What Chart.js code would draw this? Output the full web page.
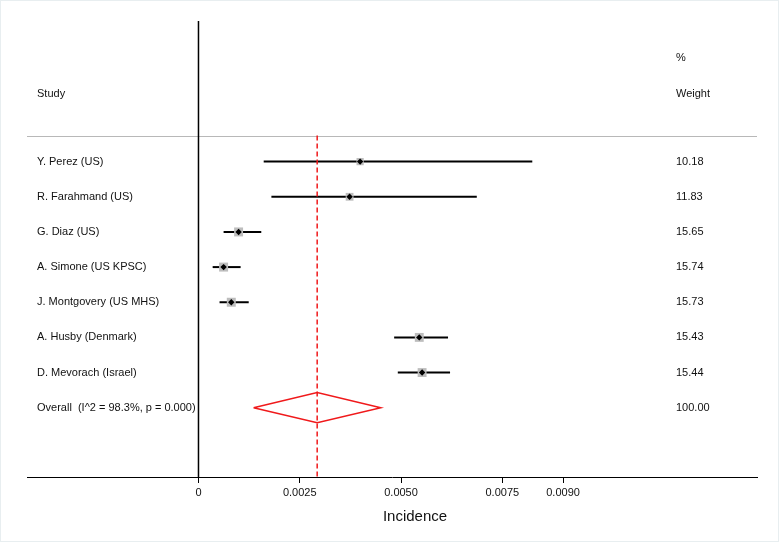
<!DOCTYPE html>
<html>
<head>
<meta charset="utf-8">
<script src="https://cdn.jsdelivr.net/npm/chart.js@4.4.1/dist/chart.umd.min.js"></script>
<style>
  html, body { margin: 0; padding: 0; background: #fff; }
  #wrap { width: 779px; height: 542px; position: relative; }
  #wrap canvas { position: absolute; left: 0; top: 0; }
  #wrap::after { content: ''; position: absolute; inset: 0; border: 1px solid #e8eef0; pointer-events: none; }
</style>
</head>
<body>
<div id="wrap"><canvas id="forest" width="779" height="542"></canvas></div>
<script>
// data
const studies = ['Y. Perez (US)', 'R. Farahmand (US)', 'G. Diaz (US)', 'A. Simone (US KPSC)',
  'J. Montgovery (US MHS)', 'A. Husby (Denmark)', 'D. Mevorach (Israel)'];
const estimates = [0.00399, 0.00373, 0.00099, 0.00062, 0.00081, 0.00545, 0.00552];
const lowerCI = [0.00161, 0.00180, 0.00062, 0.00035, 0.00052, 0.00483, 0.00492];
const upperCI = [0.00824, 0.00687, 0.00155, 0.00104, 0.00124, 0.00616, 0.00621];
const weights = ['10.18', '11.83', '15.65', '15.74', '15.73', '15.43', '15.44'];
const overallLabel = 'Overall  (I^2 = 98.3%, p = 0.000)';
const overall = { est: 0.00293, lo: 0.00136, hi: 0.00450, weight: '100.00' };
const tickValues = [0, 0.0025, 0.005, 0.0075, 0.009];
const tickLabels = ['0', '0.0025', '0.0050', '0.0075', '0.0090'];

const FONT = '"Liberation Sans", Arial, Helvetica, sans-serif';
const overallRow = studies.length;

// grey squares + black diamonds
const squares = studies.map((s, i) => ({ x: estimates[i], y: i }));
const squareSizes = weights.map(w => Math.sqrt(parseFloat(w)) * 1.6);

const diamond = [
  { x: overall.lo, y: overallRow },
  { x: overall.est, y: overallRow - 0.43 },
  { x: overall.hi, y: overallRow },
  { x: overall.est, y: overallRow + 0.43 },
  { x: overall.lo, y: overallRow }
];

// draws CI whiskers, labels and headers
const forestPlugin = {
  id: 'forest',
  beforeDatasetsDraw(chart) {
    const { ctx, scales: { x, y }, chartArea } = chart;
    ctx.save();
    // separator under header
    ctx.strokeStyle = '#b8b8b8';
    ctx.lineWidth = 1;
    const sepY = Math.round(y.getPixelForValue(-0.743)) + 0.5;
    ctx.beginPath();
    ctx.moveTo(chartArea.left, sepY);
    ctx.lineTo(chartArea.right, sepY);
    ctx.stroke();

    // confidence intervals
    ctx.strokeStyle = '#000';
    ctx.lineWidth = 2;
    studies.forEach((s, i) => {
      const py = y.getPixelForValue(i);
      ctx.beginPath();
      ctx.moveTo(x.getPixelForValue(lowerCI[i]), py);
      ctx.lineTo(x.getPixelForValue(upperCI[i]), py);
      ctx.stroke();
    });
    ctx.restore();
  },
  afterDraw(chart) {
    const { ctx, scales: { y } } = chart;
    ctx.save();
    ctx.fillStyle = '#111';
    ctx.font = '11px ' + FONT;
    ctx.textBaseline = 'middle';
    ctx.textAlign = 'left';
    ctx.fillText('%', 676, y.getPixelForValue(-2.943));
    ctx.fillText('Study', 37, y.getPixelForValue(-1.914));
    ctx.fillText('Weight', 676, y.getPixelForValue(-1.914));
    studies.forEach((s, i) => {
      const py = y.getPixelForValue(i);
      ctx.fillText(s, 37, py);
      ctx.fillText(weights[i], 676, py);
    });
    ctx.fillText(overallLabel, 37, y.getPixelForValue(overallRow));
    ctx.fillText(overall.weight, 676, y.getPixelForValue(overallRow));

    ctx.font = '15px ' + FONT;
    ctx.textAlign = 'center';
    ctx.fillText('Incidence', 415, 517);
    ctx.restore();
  }
};

new Chart(document.getElementById('forest'), {
  type: 'scatter',
  plugins: [forestPlugin],
  data: {
    datasets: [
      {
        // null line
        data: [{ x: 0, y: -4 }, { x: 0, y: 8.971 }],
        showLine: true, borderColor: '#000', borderWidth: 1.5, pointRadius: 0, order: 5
      },
      {
        // overall estimate
        data: [{ x: overall.est, y: -0.743 }, { x: overall.est, y: 8.971 }],
        showLine: true, borderColor: '#f0191b', borderWidth: 1.5, borderDash: [5, 3], pointRadius: 0, order: 4
      },
      {
        data: squares,
        pointStyle: 'rect', pointRadius: squareSizes,
        backgroundColor: '#bdbdbd', borderColor: '#bdbdbd', borderWidth: 0, order: 2
      },
      {
        data: squares,
        pointStyle: 'rectRot', pointRadius: 3.2,
        backgroundColor: '#000', borderColor: '#000', borderWidth: 0, order: 1
      },
      {
        data: diamond,
        showLine: true, borderColor: '#f0191b', borderWidth: 1.5, pointRadius: 0, fill: false, tension: 0, order: 3
      }
    ]
  },
  options: {
    responsive: false,
    animation: false,
    events: [],
    layout: { padding: { left: 27, right: 22, top: 21, bottom: 0 } },
    plugins: { legend: { display: false }, tooltip: { enabled: false } },
    scales: {
      x: {
        type: 'linear',
        min: -0.004233,
        max: 0.013787,
        afterBuildTicks(scale) {
          scale.ticks = tickValues.map(v => ({ value: v }));
        },
        afterFit(scale) { scale.height = 65; },
        grid: { display: true, drawOnChartArea: false, drawTicks: true, tickLength: 6, color: '#000' },
        border: { display: true, color: '#000', width: 1 },
        ticks: {
          padding: 3,
          color: '#111',
          font: { family: FONT, size: 11 },
          maxRotation: 0,
          autoSkip: false,
          callback: (v) => tickLabels[tickValues.indexOf(v)] ?? ''
        }
      },
      y: {
        type: 'linear',
        reverse: true,
        min: -4,
        max: 8.971,
        display: false
      }
    }
  }
});
</script>
</body>
</html>
